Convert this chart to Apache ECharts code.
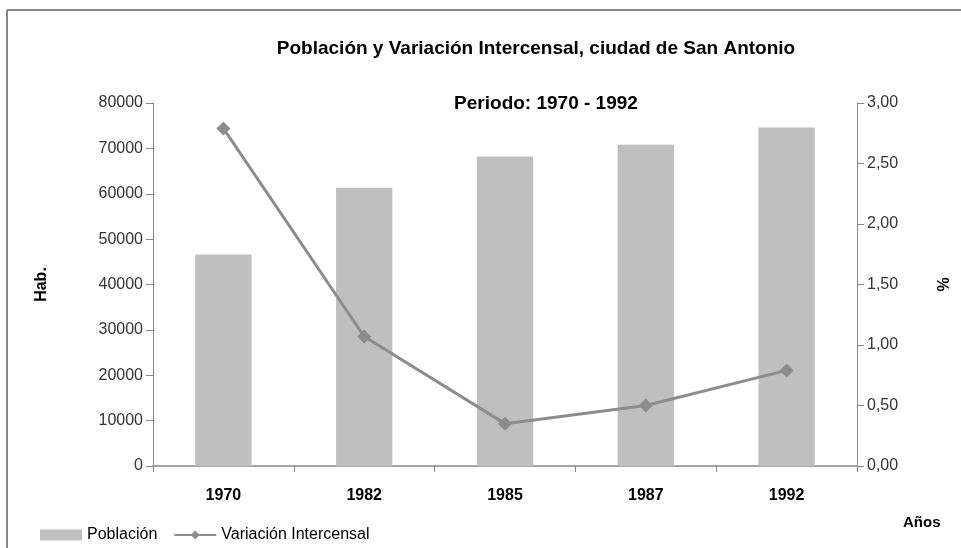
<!DOCTYPE html>
<html lang="es">
<head>
    <meta charset="UTF-8">
    <title>Población y Variación Intercensal</title>
    <script src="https://cdn.jsdelivr.net/npm/echarts@6/dist/echarts.min.js"></script>
    <style>
        html, body { margin: 0; padding: 0; background: #fff; }
        #main { width: 961px; height: 548px; }
    </style>
</head>
<body>
    <div id="main"></div>
    <script>
        // datos
        const anios = ["1970", "1982", "1985", "1987", "1992"]
        const poblacion = [46600, 61300, 68200, 70800, 74600]
        const variacion = [2.79, 1.07, 0.35, 0.50, 0.79]

        const fuente = '"Liberation Sans Narrow", "Liberation Sans", Arial, sans-serif'
        const gris = "#868686"

        const chart = echarts.init(document.getElementById("main"))
        const option = {
            animation: false,
            textStyle: { fontFamily: fuente },
            title: [
                {
                    text: "Población y Variación Intercensal, ciudad de San Antonio",
                    left: 531, top: 34, textAlign: "center",
                    textStyle: { fontFamily: fuente, fontSize: 19, fontWeight: "bold", color: "#000" }
                },
                {
                    text: "Periodo: 1970 - 1992",
                    left: 541, top: 89, textAlign: "center",
                    textStyle: { fontFamily: fuente, fontSize: 19, fontWeight: "bold", color: "#000" }
                }
            ],
            // borde del area del grafico (solo arriba e izquierda visibles)
            graphic: [
                { type: "line", shape: { x1: 7, y1: 10, x2: 961, y2: 10 }, style: { stroke: gris, lineWidth: 2 } },
                { type: "line", shape: { x1: 7, y1: 10, x2: 7, y2: 548 }, style: { stroke: gris, lineWidth: 2 } },
                {
                    type: "text", left: 903, top: 515,
                    style: { text: "Años", font: 'bold 15px "Liberation Sans", Arial, sans-serif', fill: "#000" }
                }
            ],
            legend: {
                left: 35, top: 522,
                itemWidth: 42, itemHeight: 11, itemGap: 16,
                textStyle: { fontFamily: fuente, fontSize: 16, color: "#000" },
                data: [
                    { name: "Población", icon: "rect" },
                    { name: "Variación Intercensal" }
                ]
            },
            grid: { left: 153, right: 104, top: 103, bottom: 82 },
            xAxis: {
                type: "category",
                data: anios,
                axisLine: { lineStyle: { color: gris, width: 1.5 } },
                axisTick: { show: true, length: 6, lineStyle: { color: gris } },
                axisLabel: { margin: 22, fontSize: 16, fontWeight: "bold", color: "#000", fontFamily: fuente }
            },
            yAxis: [
                {
                    type: "value", min: 0, max: 80000, interval: 10000,
                    name: "Hab.", nameLocation: "middle", nameGap: 103, nameRotate: 90,
                    nameTextStyle: { fontSize: 16, fontWeight: "bold", color: "#000", fontFamily: fuente },
                    splitLine: { show: false },
                    axisLine: { show: true, lineStyle: { color: gris } },
                    axisTick: { show: true, length: 7, lineStyle: { color: gris } },
                    axisLabel: {
                        margin: 10, fontSize: 16, color: "#333", fontFamily: fuente,
                        formatter: v => String(v)
                    }
                },
                {
                    type: "value", min: 0, max: 3, interval: 0.5,
                    name: "%", nameLocation: "middle", nameGap: 80, nameRotate: 90,
                    nameTextStyle: { fontSize: 16, fontWeight: "bold", color: "#000", fontFamily: fuente },
                    splitLine: { show: false },
                    axisLine: { show: true, lineStyle: { color: gris } },
                    axisTick: { show: true, length: 7, lineStyle: { color: gris } },
                    axisLabel: {
                        margin: 10, fontSize: 16, color: "#333", fontFamily: fuente,
                        formatter: v => v.toFixed(2).replace(".", ",")
                    }
                }
            ],
            series: [
                {
                    name: "Población",
                    type: "bar",
                    data: poblacion,
                    barWidth: "40%",
                    itemStyle: { color: "#bfbfbf" }
                },
                {
                    name: "Variación Intercensal",
                    type: "line",
                    yAxisIndex: 1,
                    data: variacion,
                    symbol: "diamond",
                    symbolSize: 14,
                    lineStyle: { color: "#8c8c8c", width: 3 },
                    itemStyle: { color: "#8c8c8c" }
                }
            ]
        }
        chart.setOption(option)
    </script>
</body>
</html>
